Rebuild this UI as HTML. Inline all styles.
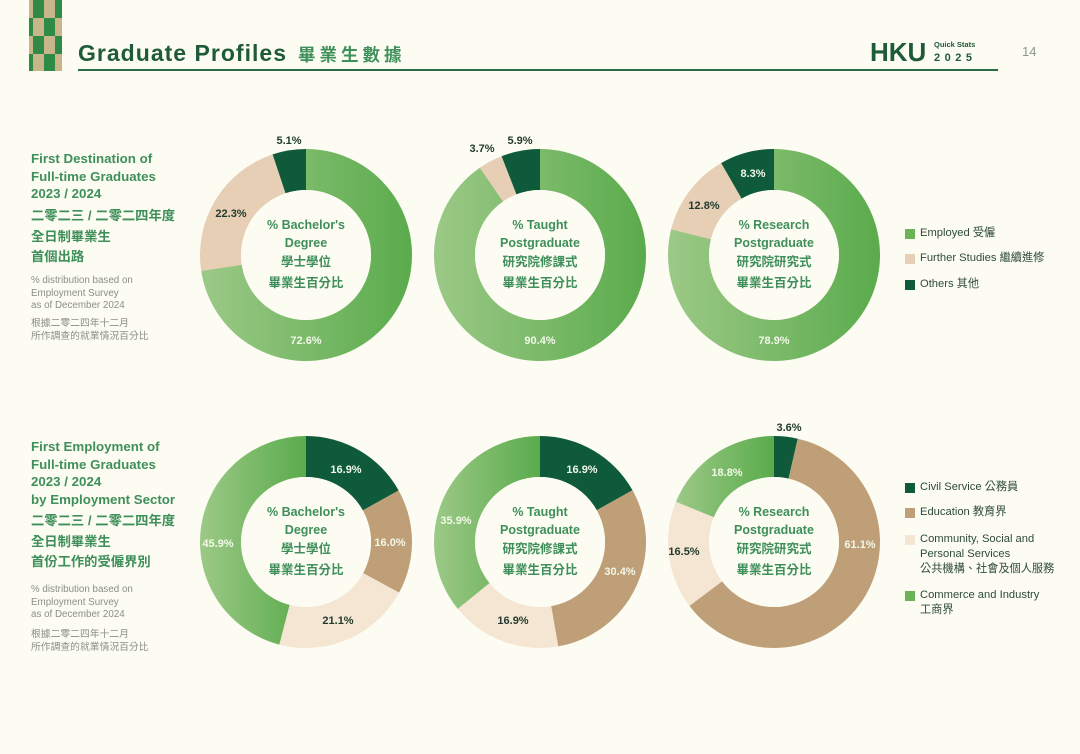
<!DOCTYPE html>
<html><head><meta charset="utf-8"><style>
body{margin:0;width:1080px;height:754px;background:#fcfcf2;font-family:"Liberation Sans","Noto Sans CJK TC",sans-serif;position:relative;overflow:hidden}
.a{position:absolute;white-space:nowrap}
.h{color:#3f8f5a;font-weight:bold;font-size:13.3px;line-height:17.5px}
.g{color:#8a8f85;font-size:9.8px;line-height:12.5px}
.lg{font-size:11.2px;color:#2f4a3a;line-height:15px}
.sq{position:absolute;width:10px;height:10px}
</style></head><body>
<svg width="1080" height="754" style="position:absolute;left:0;top:0">
<defs><linearGradient id="gr" x1="0" y1="0" x2="1" y2="0"><stop offset="0" stop-color="#9cc987"/><stop offset="1" stop-color="#5aab4c"/></linearGradient>
<pattern id="ck" width="22" height="36" patternUnits="userSpaceOnUse"><rect width="22" height="36" fill="#2f8a45"/><rect width="11" height="18" fill="#c8b58a"/><rect x="11" y="18" width="11" height="18" fill="#c8b58a"/></pattern></defs>
<rect x="29" y="0" width="33" height="71" fill="url(#ck)"/>
<rect x="78" y="69" width="920" height="2" fill="#2a6b46"/>
<text x="78" y="61" font-size="23" font-weight="bold" fill="#1f5a3a" textLength="208" font-family="Liberation Sans, sans-serif">Graduate Profiles</text>
<text x="298" y="61" font-size="17.5" font-weight="bold" fill="#3f8f5a" letter-spacing="4" font-family="Noto Sans CJK TC, sans-serif">畢業生數據</text>
<text x="870" y="61" font-size="26" fill="#1f5a3a" font-weight="bold" font-family="Liberation Sans, sans-serif">HKU</text>
<text x="934" y="47" font-size="7.5" font-weight="bold" fill="#1f5a3a">Quick Stats</text>
<text x="934" y="61" font-size="11" font-weight="bold" fill="#1f5a3a" letter-spacing="4.5">2025</text>
<text x="1022" y="56" font-size="13" fill="#8a9a8a">14</text>
<g id="charts"></g>
</svg>
<script>
var C=[[306,255,[[72.6,'url(#gr)'],[22.3,'#e6cfb4'],[5.1,'#0e5a3a']]],[540,255,[[90.4,'url(#gr)'],[3.7,'#e6cfb4'],[5.9,'#0e5a3a']]],[774,255,[[78.9,'url(#gr)'],[12.8,'#e6cfb4'],[8.3,'#0e5a3a']]],
[306,542,[[16.9,'#0e5a3a'],[16.0,'#bf9f78'],[21.1,'#f4e6d3'],[45.9,'url(#gr)']]],[540,542,[[16.9,'#0e5a3a'],[30.4,'#bf9f78'],[16.9,'#f4e6d3'],[35.9,'url(#gr)']]],[774,542,[[3.6,'#0e5a3a'],[61.1,'#bf9f78'],[16.5,'#f4e6d3'],[18.8,'url(#gr)']]]];
var s='',R=106,r=65;
C.forEach(function(c){var cx=c[0],cy=c[1],a=0,t=c[2].reduce(function(x,y){return x+y[0]},0);
c[2].forEach(function(p){var a0=a/t*2*Math.PI,a1=(a+p[0])/t*2*Math.PI;a+=p[0];var L=(a1-a0)>Math.PI?1:0;
function P(rr,an){return (cx+rr*Math.sin(an)).toFixed(2)+' '+(cy-rr*Math.cos(an)).toFixed(2)}
s+='<path d="M'+P(R,a0)+' A'+R+' '+R+' 0 '+L+' 1 '+P(R,a1)+' L'+P(r,a1)+' A'+r+' '+r+' 0 '+L+' 0 '+P(r,a0)+'Z" fill="'+p[1]+'"/>';});
s+='<circle cx="'+cx+'" cy="'+cy+'" r="'+r+'" fill="#fcfcf2"/>';});
document.getElementById('charts').innerHTML=s;
</script>
<style>.ct{position:absolute;width:140px;text-align:center;color:#3f8f5a;font-weight:bold;font-size:12.5px;line-height:17.5px}
.ct span{display:block;line-height:21px;font-size:12.5px}
.p{position:absolute;font-size:11px;font-weight:bold;transform:translate(-50%,-50%);white-space:nowrap}
.w{color:#f3f8e8}.d{color:#233b2e}</style>
<div class="ct" style="left:236px;top:217px">% Bachelor's<br>Degree<span>學士學位<br>畢業生百分比</span></div>
<div class="ct" style="left:470px;top:217px">% Taught<br>Postgraduate<span>研究院修課式<br>畢業生百分比</span></div>
<div class="ct" style="left:704px;top:217px">% Research<br>Postgraduate<span>研究院研究式<br>畢業生百分比</span></div>
<div class="ct" style="left:236px;top:504px">% Bachelor's<br>Degree<span>學士學位<br>畢業生百分比</span></div>
<div class="ct" style="left:470px;top:504px">% Taught<br>Postgraduate<span>研究院修課式<br>畢業生百分比</span></div>
<div class="ct" style="left:704px;top:504px">% Research<br>Postgraduate<span>研究院研究式<br>畢業生百分比</span></div>
<div class="p d" style="left:289px;top:141px">5.1%</div><div class="p d" style="left:231px;top:214px">22.3%</div><div class="p w" style="left:306px;top:341px">72.6%</div>
<div class="p d" style="left:482px;top:149px">3.7%</div><div class="p d" style="left:520px;top:141px">5.9%</div><div class="p w" style="left:540px;top:341px">90.4%</div>
<div class="p d" style="left:704px;top:206px">12.8%</div><div class="p w" style="left:753px;top:174px">8.3%</div><div class="p w" style="left:774px;top:341px">78.9%</div>
<div class="p w" style="left:346px;top:470px">16.9%</div><div class="p w" style="left:390px;top:543px">16.0%</div><div class="p d" style="left:338px;top:621px">21.1%</div><div class="p w" style="left:218px;top:544px">45.9%</div>
<div class="p w" style="left:582px;top:470px">16.9%</div><div class="p w" style="left:620px;top:572px">30.4%</div><div class="p d" style="left:513px;top:621px">16.9%</div><div class="p w" style="left:456px;top:521px">35.9%</div>
<div class="p d" style="left:789px;top:428px">3.6%</div><div class="p w" style="left:860px;top:545px">61.1%</div><div class="p d" style="left:684px;top:552px">16.5%</div><div class="p w" style="left:727px;top:473px">18.8%</div>
<div class="a h" style="left:31px;top:150px">First Destination of<br>Full-time Graduates<br>2023 / 2024</div>
<div class="a h" style="left:31px;top:206px;line-height:20.5px">二零二三 / 二零二四年度<br>全日制畢業生<br>首個出路</div>
<div class="a g" style="left:31px;top:275px">% distribution based on<br>Employment Survey<br>as of December 2024</div>
<div class="a g" style="left:31px;top:318px">根據二零二四年十二月<br>所作調查的就業情況百分比</div>
<div class="a h" style="left:31px;top:438px">First Employment of<br>Full-time Graduates<br>2023 / 2024<br>by Employment Sector</div>
<div class="a h" style="left:31px;top:511px;line-height:20.5px">二零二三 / 二零二四年度<br>全日制畢業生<br>首份工作的受僱界別</div>
<div class="a g" style="left:31px;top:584px">% distribution based on<br>Employment Survey<br>as of December 2024</div>
<div class="a g" style="left:31px;top:629px">根據二零二四年十二月<br>所作調查的就業情況百分比</div>
<div class="sq" style="left:905px;top:229px;background:#6cb257"></div><div class="a lg" style="left:920px;top:226px">Employed 受僱</div>
<div class="sq" style="left:905px;top:254px;background:#e6cfb4"></div><div class="a lg" style="left:920px;top:251px">Further Studies 繼續進修</div>
<div class="sq" style="left:905px;top:280px;background:#0e5a3a"></div><div class="a lg" style="left:920px;top:277px">Others 其他</div>
<div class="sq" style="left:905px;top:483px;background:#0e5a3a"></div><div class="a lg" style="left:920px;top:480px">Civil Service 公務員</div>
<div class="sq" style="left:905px;top:508px;background:#bf9f78"></div><div class="a lg" style="left:920px;top:505px">Education 教育界</div>
<div class="sq" style="left:905px;top:535px;background:#f4e6d3"></div><div class="a lg" style="left:920px;top:532px">Community, Social and<br>Personal Services<br>公共機構、社會及個人服務</div>
<div class="sq" style="left:905px;top:591px;background:#6cb257"></div><div class="a lg" style="left:920px;top:588px">Commerce and Industry<br>工商界</div>
</body></html>
